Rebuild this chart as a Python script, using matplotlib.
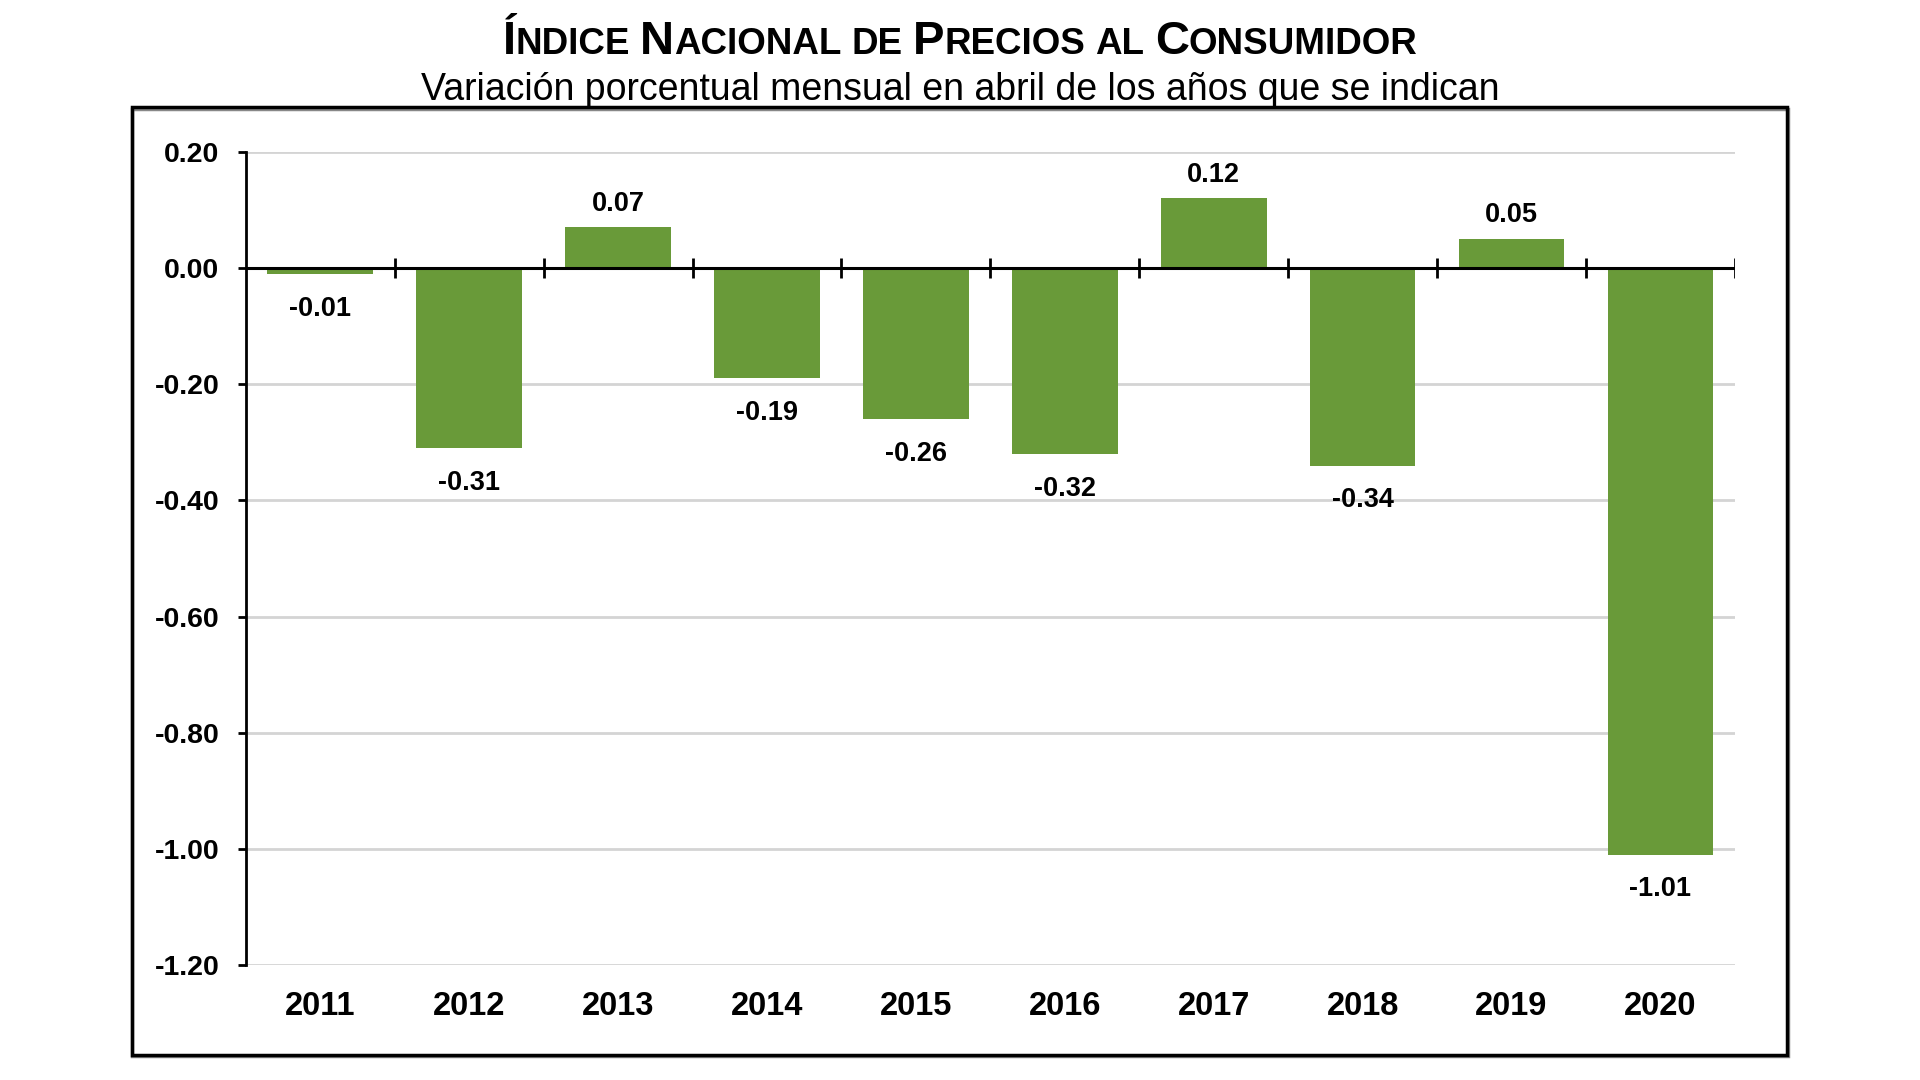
import numpy as np
import matplotlib
matplotlib.use("Agg")
import matplotlib.pyplot as plt
from matplotlib.patches import Rectangle

years = ["2011", "2012", "2013", "2014", "2015", "2016", "2017", "2018", "2019", "2020"]
valores = [-0.01, -0.31, 0.07, -0.19, -0.26, -0.32, 0.12, -0.34, 0.05, -1.01]
y_ticks = [0.20, 0.00, -0.20, -0.40, -0.60, -0.80, -1.00, -1.20]

# titulo en versalitas: (texto, mayuscula grande?)
titulo = [("Í", True), ("NDICE", False), (" ", None), ("N", True), ("ACIONAL", False), (" ", None),
          ("DE", False), (" ", None), ("P", True), ("RECIOS", False), (" ", None), ("AL", False),
          (" ", None), ("C", True), ("ONSUMIDOR", False)]
subtitulo = "Variación porcentual mensual en abril de los años que se indican"

plt.rcParams["font.family"] = ["Liberation Sans", "DejaVu Sans"]
verde = "#699A39"

fig = plt.figure(figsize=(19.2, 10.8), dpi=100)
ax = fig.add_axes([0.128, 0.1065, 0.7756, 0.7528])

x = np.arange(len(years))
ax.bar(x, valores, width=0.71, color=verde, zorder=3)

for xi, v in zip(x, valores):
    if v >= 0:
        ax.annotate(f"{v:.2f}", (xi, v), xytext=(0, 17), textcoords="offset points",
                    ha="center", va="center", fontsize=19.5, fontweight="bold")
    else:
        ax.annotate(f"{v:.2f}", (xi, v), xytext=(0, -25), textcoords="offset points",
                    ha="center", va="center", fontsize=19.5, fontweight="bold")

ax.set_xlim(-0.5, len(years) - 0.5)
ax.set_ylim(-1.2, 0.2)
ax.set_yticks(y_ticks)
ax.set_yticklabels([f"{t:.2f}" for t in y_ticks], fontsize=20.5, fontweight="bold")
ax.set_xticks(x)
ax.set_xticklabels(years, fontsize=23.5, fontweight="bold")
ax.tick_params(axis="x", length=0, pad=18.5)
ax.tick_params(axis="y", length=6, width=2, pad=13, direction="out")

for t in y_ticks:
    ax.axhline(t, color="#D4D4D4", lw=2, zorder=1)

for s in ["top", "right", "bottom"]:
    ax.spines[s].set_visible(False)
ax.spines["left"].set_linewidth(2)
ax.spines["left"].set_zorder(5)

# eje en cero con marcas entre categorias
ax.axhline(0, color="black", lw=2.2, zorder=4)
bordes = np.arange(1, len(years) + 1) - 0.5
ax.vlines(bordes, -0.017, 0.017, color="black", lw=2, zorder=4)

# marco exterior
fig.patches.append(Rectangle((0.069, 0.022), 0.862, 0.877, transform=fig.transFigure,
                             fill=False, edgecolor="#888888", lw=2.5, zorder=0))
fig.patches.append(Rectangle((0.0685, 0.0235), 0.862, 0.877, transform=fig.transFigure,
                             fill=False, edgecolor="black", lw=2.5, zorder=1))

# titulo
renderer = fig.canvas.get_renderer()
grande, chica = 34, 26.5
piezas = []
for txt, big in titulo:
    if big is None:
        continue
    piezas.append(fig.text(0, 0, txt, fontsize=grande if big else chica, fontweight="bold",
                           ha="left", va="baseline"))
a = fig.text(0, 0, "NN", fontsize=chica, fontweight="bold")
b = fig.text(0, 0, "N N", fontsize=chica, fontweight="bold")
espacio = b.get_window_extent(renderer).width - a.get_window_extent(renderer).width
a.remove()
b.remove()

anchos = []
i = 0
for txt, big in titulo:
    if big is None:
        anchos.append(espacio)
    else:
        anchos.append(piezas[i].get_window_extent(renderer).width)
        i += 1
total = sum(anchos)
W, H = fig.get_size_inches() * fig.dpi
xpos = 960 - total / 2
i = 0
for (txt, big), w in zip(titulo, anchos):
    if big is not None:
        piezas[i].set_position((xpos / W, 1 - 54 / H))
        i += 1
    xpos += w

fig.text(0.5, 1 - 90 / H, subtitulo, fontsize=27, ha="center", va="center")

fig.savefig("out.png", dpi=100)
